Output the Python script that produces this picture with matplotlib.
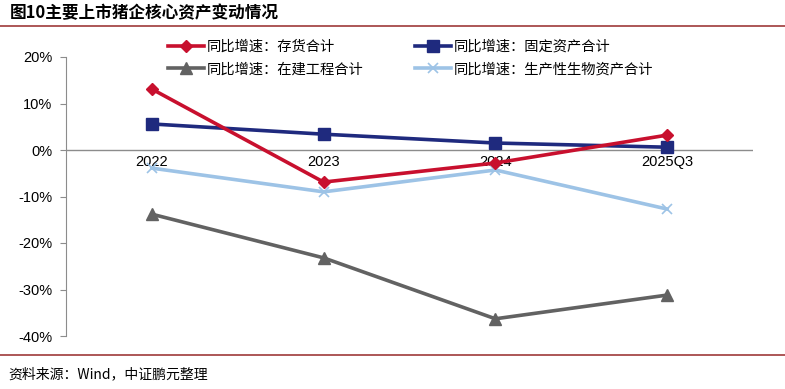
import matplotlib
matplotlib.use("Agg")
import matplotlib.pyplot as plt
from matplotlib.lines import Line2D

plt.rcParams['font.family'] = ['Noto Sans CJK SC', 'DejaVu Sans']

categories = ["2022", "2023", "2024", "2025Q3"]
inventory = [13.1, -6.9, -2.8, 3.2]
fixed_assets = [5.6, 3.4, 1.5, 0.6]
construction = [-13.8, -23.2, -36.3, -31.2]
bio_assets = [-3.9, -9.0, -4.3, -12.7]
series_names = ["同比增速：存货合计", "同比增速：固定资产合计",
                "同比增速：在建工程合计", "同比增速：生产性生物资产合计"]
yticks = [20, 10, 0, -10, -20, -30, -40]

fig = plt.figure(figsize=(7.85, 3.89), dpi=100)
ax = fig.add_axes([66/785, 1-336/389, (753-66)/785, (336-57)/389])

x = list(range(len(categories)))
c_red = "#C8102E"
c_navy = "#1F2A7E"
c_grey = "#626262"
c_lb = "#9DC3E6"

ax.plot(x, bio_assets, color=c_lb, lw=2.6, marker="x", ms=7, mew=1.2, zorder=3)
ax.plot(x, construction, color=c_grey, lw=2.6, marker="^", ms=8, zorder=3)
ax.plot(x, fixed_assets, color=c_navy, lw=2.6, marker="s", ms=8, zorder=4)
ax.plot(x, inventory, color=c_red, lw=2.6, marker="D", ms=6.5, zorder=5)

ax.set_xlim(-0.5, 3.5)
ax.set_ylim(-40, 20)
ax.axhline(0, color="#8C8C8C", lw=1.0, zorder=1)
for s in ["top", "right", "bottom"]:
    ax.spines[s].set_visible(False)
ax.spines["left"].set_color("#8C8C8C")
ax.set_yticks(yticks)
ax.set_yticklabels([f"{v}%" for v in yticks], fontsize=10.5, family=["Liberation Sans", "DejaVu Sans"])
ax.tick_params(axis="y", length=4, color="#8C8C8C", pad=6)
ax.set_xticks([])
for xi, lab in zip(x, categories):
    ax.text(xi, -2.6, lab, ha="center", va="center", fontsize=10.5,
            family=["Liberation Sans", "DejaVu Sans"], zorder=2)

handles = [
    Line2D([], [], color=c_red, lw=2.6, marker="D", ms=6.5),
    Line2D([], [], color=c_navy, lw=2.6, marker="s", ms=8),
    Line2D([], [], color=c_grey, lw=2.6, marker="^", ms=8),
    Line2D([], [], color=c_lb, lw=2.6, marker="x", ms=7, mew=1.2),
]
order = [0, 2, 1, 3]
fig.legend([handles[i] for i in order], [series_names[i] for i in order],
           ncol=2, loc="center left", bbox_to_anchor=(155/785, 1-58/389),
           frameon=False, fontsize=10.3, handlelength=2.5, handletextpad=0.2,
           columnspacing=3.65, labelspacing=0.62)

fig.text(10/785, 1-13/389, "图10主要上市猪企核心资产变动情况", fontsize=12, fontweight="bold",
         ha="left", va="center")
fig.add_artist(Line2D([0, 1], [1-26/389, 1-26/389], color="#9E3A3A", lw=1.2))
fig.add_artist(Line2D([0, 1], [1-355/389, 1-355/389], color="#9E3A3A", lw=1.2))
fig.text(8/785, 1-374/389, "资料来源：Wind，中证鹏元整理", fontsize=10, ha="left", va="center")

fig.savefig("out.png", dpi=100)
